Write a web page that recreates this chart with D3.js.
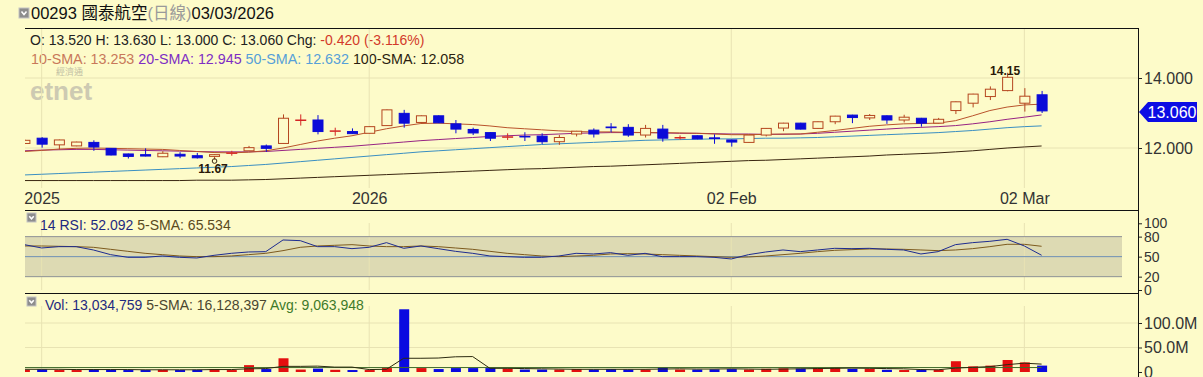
<!DOCTYPE html>
<html>
<head>
<meta charset="utf-8">
<script src="https://cdn.jsdelivr.net/npm/d3@7/dist/d3.min.js"></script>
<style>
  html, body { margin: 0; padding: 0; background: #fdfbc9; }
  svg { display: block; font-family: "Liberation Sans", Arial, "Noto Sans CJK TC", sans-serif; }
</style>
</head>
<body>
<svg id="chart" width="1203" height="377"></svg>
<script>
// 00293 daily candles, 02 Dec 2025 .. 03 Mar 2026
const dates = [
  "2025-12-02","2025-12-03","2025-12-04","2025-12-05","2025-12-08","2025-12-09","2025-12-10","2025-12-11","2025-12-12","2025-12-15",
  "2025-12-16","2025-12-17","2025-12-18","2025-12-19","2025-12-22","2025-12-23","2025-12-24","2025-12-29","2025-12-30","2025-12-31",
  "2026-01-02","2026-01-05","2026-01-06","2026-01-07","2026-01-08","2026-01-09","2026-01-12","2026-01-13","2026-01-14","2026-01-15",
  "2026-01-16","2026-01-19","2026-01-20","2026-01-21","2026-01-22","2026-01-23","2026-01-26","2026-01-27","2026-01-28","2026-01-29",
  "2026-01-30","2026-02-02","2026-02-03","2026-02-04","2026-02-05","2026-02-06","2026-02-09","2026-02-10","2026-02-11","2026-02-12",
  "2026-02-13","2026-02-16","2026-02-20","2026-02-23","2026-02-24","2026-02-25","2026-02-26","2026-02-27","2026-03-02","2026-03-03"
];
const open = [12.13,12.28,12.09,12.06,12.16,11.99,11.83,11.81,11.75,11.82, 11.78,11.76,11.86,11.92,12.06,12.13,12.80,12.80,12.49,12.47,
  12.42,12.64,12.99,12.73,12.92,12.69,12.53,12.44,12.32,12.33, 12.34,12.18,12.40,12.51,12.60,12.59,12.37,12.54,12.30,12.35,
  12.29,12.23,12.16,12.37,12.57,12.71,12.56,12.75,12.94,12.86, 12.92,12.80,12.85,12.71,13.07,13.28,13.47,13.64,13.28,13.52];
const high = [12.24,12.31,12.24,12.18,12.22,12.00,11.84,11.99,11.91,11.88, 11.86,11.82,11.92,12.06,12.10,12.96,12.96,12.94,12.58,12.56,
  12.62,13.10,13.09,12.93,12.93,12.80,12.58,12.45,12.42,12.45, 12.42,12.37,12.49,12.56,12.71,12.68,12.66,12.66,12.36,12.36,
  12.39,12.24,12.37,12.57,12.72,12.72,12.76,12.92,12.95,12.97, 12.93,12.95,12.86,12.86,13.33,13.55,13.76,14.15,13.71,13.63];
const low = [12.12,12.01,11.96,12.05,11.92,11.79,11.70,11.76,11.74,11.71, 11.70,11.67,11.78,11.92,11.89,12.12,12.64,12.39,12.35,12.40,
  12.41,12.63,12.58,12.72,12.71,12.42,12.37,12.20,12.23,12.20, 12.11,12.09,12.33,12.30,12.45,12.32,12.30,12.18,12.24,12.25,
  12.12,12.04,12.15,12.33,12.48,12.53,12.55,12.68,12.71,12.80, 12.69,12.73,12.61,12.70,12.97,13.16,13.37,13.62,13.04,13.00];
const close = [12.22,12.11,12.23,12.17,12.03,11.80,11.76,11.77,11.85,11.77, 11.72,11.81,11.86,12.01,11.99,12.85,12.80,12.47,12.49,12.41,
  12.61,13.09,12.71,12.92,12.72,12.54,12.43,12.28,12.32,12.32, 12.18,12.30,12.48,12.40,12.58,12.37,12.56,12.28,12.30,12.26,
  12.27,12.17,12.37,12.56,12.71,12.54,12.75,12.91,12.87,12.93, 12.80,12.88,12.71,12.82,13.32,13.54,13.68,14.02,13.48,13.06];

// moving averages
const sma10 = [11.90,11.93,11.97,11.99,12.00,11.99,11.98,11.97,11.96,11.93, 11.90,11.87,11.86,11.88,11.92,12.00,12.10,12.20,12.28,12.35,
  12.45,12.55,12.63,12.70,12.71,12.69,12.67,12.63,12.58,12.55, 12.52,12.49,12.47,12.46,12.46,12.45,12.44,12.44,12.43,12.42,
  12.40,12.38,12.38,12.39,12.40,12.40,12.45,12.50,12.56,12.62, 12.66,12.69,12.70,12.71,12.78,12.92,13.07,13.17,13.23,13.253];
const sma20 = [11.92,11.94,11.95,11.96,11.96,11.95,11.94,11.93,11.92,11.91, 11.90,11.89,11.89,11.89,11.90,11.93,11.96,11.99,12.02,12.05,
  12.09,12.13,12.17,12.21,12.24,12.27,12.30,12.33,12.35,12.37, 12.38,12.40,12.42,12.43,12.44,12.44,12.44,12.43,12.42,12.42,
  12.41,12.40,12.40,12.39,12.39,12.40,12.42,12.45,12.48,12.51, 12.54,12.57,12.59,12.61,12.64,12.69,12.75,12.82,12.88,12.945];
const sma50 = [11.23,11.25,11.27,11.29,11.31,11.33,11.35,11.37,11.39,11.41, 11.43,11.45,11.47,11.50,11.53,11.57,11.61,11.65,11.69,11.73,
  11.77,11.81,11.85,11.89,11.92,11.95,11.98,12.01,12.04,12.07, 12.10,12.12,12.14,12.16,12.18,12.20,12.22,12.23,12.24,12.25,
  12.26,12.26,12.27,12.28,12.28,12.29,12.30,12.32,12.34,12.36, 12.38,12.40,12.42,12.44,12.47,12.50,12.54,12.58,12.61,12.632];
const sma100 = [11.07,11.07,11.07,11.07,11.07,11.07,11.07,11.07,11.07,11.07, 11.08,11.08,11.08,11.09,11.10,11.12,11.14,11.16,11.18,11.20,
  11.22,11.24,11.26,11.28,11.30,11.32,11.34,11.36,11.38,11.40, 11.41,11.43,11.45,11.47,11.48,11.50,11.52,11.54,11.56,11.58,
  11.60,11.62,11.64,11.65,11.67,11.69,11.71,11.73,11.75,11.77, 11.80,11.82,11.84,11.86,11.89,11.92,11.96,12.00,12.03,12.058];

// RSI panel
const rsi14 = [68,63,65,65,60,53,49,49,51,49, 48,52,55,57,57.5,75,74,65,65,62,
  64,71,62.5,66,62,58,55,51,50,49, 49,51,55,54,56,52,55,50,50,50,
  49,46.5,53,57,60,57.5,60,62.5,62,62.5, 61,60,54,57.5,68,71,73,76,66,52.092];
const rsiSma5 = [66,66,65.5,65,64,61,58,55,53,51, 50,50,51,53,55,59,64,66,67,68,
  66,65,65,66,65,63,61,58,55,53, 51,50,51,52,54,54.5,54,53,52,51,
  50,49,49.5,51,53,55,57.5,59.5,60.5,61.5, 61.5,61,60,59,60,62,65,68.5,68.5,65.534];

// volume panel, millions of shares
const volume = [4.5,5.5,4,4,5.5,5,4,4,4.5,4, 4.5,6,4,14,6,28,5,7,4.5,4,
  4,8,128,8,6,8,8,8,7,5, 5,5,6,5,6,5,5,9.5,5,5,
  5.5,6,5,6.5,7.5,7,8,9.5,6.5,6.5, 4.5,4,4.5,4.5,22,11.5,13,24.5,19.6,13.034759];
const volSma5 = [5.5,5.5,5.5,5,5,5,5,4.5,4.5,4.5, 4.5,5,5,6.5,7,11.5,11.5,12,10,10,
  5,5.5,28,28,28.5,31,31.5,7.5,7.5,7, 6.5,6,5.5,5.5,5.5,5.5,5.5,6,6.5,6,
  6,6.5,6,5.5,6,6.5,7,7.5,8,7.5, 7,6.5,5,4.5,8,9.5,11,15,18,16.128397];
const volAvg = 9.063948;

const tickDates = ["2025-12-03", "2026-01-02", "2026-02-02", "2026-03-02"];
const tickLabels = ["2025", "2026", "02 Feb", "02 Mar"];
const priceTicks = [12, 14];
const rsiTicks = [0, 20, 50, 80, 100];
const volTicks = [0, 50, 100];

const BG = "#fdfbc9";
const GRID = "#e8e3b3";
const AXIS_TXT = "#333";
const UP = "#b5461f", DOWN = "#0b0bd8", FLAT = "#d42424";
// plain hyphen for negatives, like the source page
const fmt3 = v => d3.format(".3f")(v).replace("\u2212", "-");
const fmtInt = d3.format(",");

const svg = d3.select("#chart");
const left = 25, axisX = 1138;

const x = d3.scalePoint().domain(dates).range([24.4, 1041.6]);
const yPrice = d3.scaleLinear().domain([12, 14]).range([148, 78]);
const yRsi = d3.scaleLinear().domain([0, 100]).range([290, 223.3]);
const yVol = d3.scaleLinear().domain([0, 100]).range([372, 323]);

svg.append("defs").append("clipPath").attr("id", "plot")
  .append("rect").attr("x", left).attr("y", 0).attr("width", axisX - left).attr("height", 377);

function icon(g, px, py, s) {
  g.append("rect").attr("x", px).attr("y", py).attr("width", s).attr("height", s)
    .attr("fill", "#8d8d8d").attr("stroke", "#c4c4c4");
  g.append("path")
    .attr("d", `M${px + s * 0.25},${py + s * 0.35} L${px + s / 2},${py + s * 0.65} L${px + s * 0.75},${py + s * 0.35}`)
    .attr("fill", "none").attr("stroke", "#fff").attr("stroke-width", 1.5);
}

function vGrid(y0, y1) {
  svg.append("g").selectAll("line").data(tickDates).join("line")
    .attr("x1", d => x(d)).attr("x2", d => x(d))
    .attr("y1", y0).attr("y2", y1)
    .attr("stroke", GRID);
}

function rightAxis(scale, ticks, format, size) {
  const g = svg.append("g").attr("transform", `translate(${axisX},0)`)
    .call(d3.axisRight(scale).tickValues(ticks).tickFormat(format).tickSize(4).tickPadding(2).tickSizeOuter(0));
  g.select(".domain").remove();
  g.selectAll("line").attr("stroke", "#222");
  g.selectAll("text").attr("font-size", size).attr("fill", AXIS_TXT)
    .attr("font-family", "Liberation Sans, Arial, sans-serif");
  return g;
}

// header
const head = svg.append("g");
icon(head, 19, 8, 10);
const title = head.append("text").attr("x", 31).attr("y", 19).attr("font-size", 16.5).attr("fill", "#111");
title.append("tspan").text("00293 國泰航空");
title.append("tspan").attr("fill", "#9a9a9a").text("(日線)");
title.append("tspan").text("03/03/2026");

const last = dates.length - 1;
const chg = close[last] - close[last - 1];
const info = svg.append("text").attr("x", 30).attr("y", 45).attr("font-size", 14).attr("fill", "#222");
info.append("tspan").text(`O: ${fmt3(open[last])} H: ${fmt3(high[last])} L: ${fmt3(low[last])} C: ${fmt3(close[last])} Chg: `);
info.append("tspan").attr("fill", "#d23a2a")
  .text(`${fmt3(chg)} (${fmt3(chg / close[last - 1] * 100)}%)`);

const maDefs = [
  { name: "10-SMA", values: sma10, line: "#b9532c", text: "#c8785a" },
  { name: "20-SMA", values: sma20, line: "#972383", text: "#7e2ec4" },
  { name: "50-SMA", values: sma50, line: "#3a8fc2", text: "#56a0d8" },
  { name: "100-SMA", values: sma100, line: "#3a2610", text: "#2b1e10" }
];
const maText = svg.append("text").attr("x", 31).attr("y", 64).attr("font-size", 14.3);
maDefs.forEach((m, i) => {
  maText.append("tspan").attr("fill", m.text)
    .text(`${i ? " " : ""}${m.name}: ${fmt3(m.values[last])}`);
});

// watermark
svg.append("text").attr("x", 56).attr("y", 75).attr("font-size", 9).attr("fill", "#c2bfa4").text("經濟通");
svg.append("text").attr("x", 30).attr("y", 100).attr("font-size", 26).attr("font-weight", "bold")
  .attr("fill", "#cdcab2").text("etnet");

// ---- price panel ----
svg.append("g").selectAll("line").data(priceTicks).join("line")
  .attr("x1", left).attr("x2", axisX).attr("y1", d => yPrice(d)).attr("y2", d => yPrice(d))
  .attr("stroke", GRID);
vGrid(29, 188);

const pricePlot = svg.append("g").attr("clip-path", "url(#plot)");
const line = d3.line().x((d, i) => x(dates[i])).y(d => yPrice(d));
maDefs.slice().reverse().forEach(m => {
  pricePlot.append("path").datum(m.values).attr("d", line)
    .attr("fill", "none").attr("stroke", m.line).attr("stroke-width", 1);
});

const candleColor = i => close[i] > open[i] ? UP : close[i] < open[i] ? DOWN : FLAT;
const candles = pricePlot.append("g").selectAll("g").data(dates).join("g");
candles.append("line")
  .attr("x1", d => x(d) + 0.5).attr("x2", d => x(d) + 0.5)
  .attr("y1", (d, i) => yPrice(high[i])).attr("y2", (d, i) => yPrice(low[i]))
  .attr("stroke", (d, i) => candleColor(i));
candles.append("rect")
  .attr("x", d => x(d) - 4.5)
  .attr("width", 10)
  .attr("y", (d, i) => yPrice(Math.max(open[i], close[i])))
  .attr("height", (d, i) => Math.max(0.5, Math.abs(yPrice(open[i]) - yPrice(close[i]))))
  .attr("fill", (d, i) => close[i] < open[i] ? DOWN : BG)
  .attr("stroke", (d, i) => candleColor(i));

// high / low markers
const hi = d3.maxIndex(high), lo = d3.minIndex(low);
svg.append("text").attr("x", x(dates[hi]) - 2).attr("y", yPrice(high[hi]) + 2)
  .attr("text-anchor", "middle").attr("font-size", 12).attr("font-weight", "bold")
  .attr("fill", "#2a1808").text(high[hi].toFixed(2));
svg.append("circle").attr("cx", x(dates[lo]) + 0.5).attr("cy", yPrice(low[lo]) + 1.5).attr("r", 2.3)
  .attr("fill", "none").attr("stroke", "#3a2410");
svg.append("text").attr("x", x(dates[lo]) - 1).attr("y", yPrice(low[lo]) + 13)
  .attr("text-anchor", "middle").attr("font-size", 12).attr("font-weight", "bold")
  .attr("fill", "#2a1808").text(low[lo].toFixed(2));

// x axis labels
const xAxis = svg.append("g").attr("transform", "translate(0,190)")
  .call(d3.axisBottom(x).tickValues(tickDates).tickFormat((d, i) => tickLabels[i]).tickSize(0).tickPadding(3));
xAxis.select(".domain").remove();
xAxis.selectAll("text").attr("font-size", 16).attr("fill", AXIS_TXT)
  .attr("font-family", "Liberation Sans, Arial, sans-serif");

rightAxis(yPrice, priceTicks, fmt3, 16);

// last price tag
const ty = yPrice(close[last]) + 1;
svg.append("path")
  .attr("d", `M${axisX + 1},${ty} L${axisX + 10},${ty - 10} L1197,${ty - 10} L1197,${ty + 10} L${axisX + 10},${ty + 10} Z`)
  .attr("fill", "#0c0ce4");
svg.append("text").attr("x", 1172).attr("y", ty).attr("dy", "0.36em").attr("text-anchor", "middle")
  .attr("font-size", 16).attr("fill", "#fff").text(fmt3(close[last]));

// ---- RSI panel ----
svg.append("rect").attr("x", left).attr("width", 1122 - left)
  .attr("y", yRsi(80)).attr("height", yRsi(20) - yRsi(80)).attr("fill", "#dddab3");
vGrid(223, 290);
[[80, "#8e9296"], [20, "#8e9296"], [50, "#6f90b6"]].forEach(([v, c]) => {
  svg.append("line").attr("x1", left).attr("x2", 1122).attr("y1", yRsi(v)).attr("y2", yRsi(v)).attr("stroke", c);
});
const rsiPlot = svg.append("g").attr("clip-path", "url(#plot)");
const rsiLine = d3.line().x((d, i) => x(dates[i])).y(d => yRsi(d));
rsiPlot.append("path").datum(rsiSma5).attr("d", rsiLine).attr("fill", "none").attr("stroke", "#7d5a1e");
rsiPlot.append("path").datum(rsi14).attr("d", rsiLine).attr("fill", "none").attr("stroke", "#1d2b90");
rightAxis(yRsi, rsiTicks, d3.format("d"), 14);

icon(svg, 27, 213, 9);
const rsiText = svg.append("text").attr("x", 40).attr("y", 230).attr("font-size", 14);
rsiText.append("tspan").attr("fill", "#1f2a80").text(`14 RSI: ${fmt3(rsi14[last])}`);
rsiText.append("tspan").attr("fill", "#5a4a1e").text(` 5-SMA: ${fmt3(rsiSma5[last])}`);

// ---- volume panel ----
svg.append("g").selectAll("line").data([50, 100]).join("line")
  .attr("x1", left).attr("x2", axisX).attr("y1", d => yVol(d)).attr("y2", d => yVol(d))
  .attr("stroke", GRID);
vGrid(306, 372);
const volPlot = svg.append("g").attr("clip-path", "url(#plot)");
volPlot.selectAll("rect").data(dates).join("rect")
  .attr("x", d => x(d) - 4.5).attr("width", 10)
  .attr("y", (d, i) => yVol(volume[i]))
  .attr("height", (d, i) => yVol(0) - yVol(volume[i]))
  .attr("fill", (d, i) => close[i] < open[i] ? "#0a0ae0" : "#e30f0f");
volPlot.append("line").attr("x1", left).attr("x2", x(dates[last]))
  .attr("y1", yVol(volAvg)).attr("y2", yVol(volAvg)).attr("stroke", "#3f6a2a");
volPlot.append("path").datum(volSma5)
  .attr("d", d3.line().x((d, i) => x(dates[i])).y(d => yVol(d)))
  .attr("fill", "none").attr("stroke", "#2c2a10");
rightAxis(yVol, volTicks, d => d === 0 ? "0" : d.toFixed(1) + "M", 16);

icon(svg, 27, 297, 9);
const volText = svg.append("text").attr("x", 45).attr("y", 310).attr("font-size", 14);
volText.append("tspan").attr("fill", "#1f2a80").text(`Vol: ${fmtInt(Math.round(volume[last] * 1e6))}`);
volText.append("tspan").attr("fill", "#4a4630").text(` 5-SMA: ${fmtInt(Math.round(volSma5[last] * 1e6))}`);
volText.append("tspan").attr("fill", "#3d7a2a").text(` Avg: ${fmtInt(Math.round(volAvg * 1e6))}`);

// panel frame lines
[28.5, 210.5, 293.5].forEach(yy => {
  svg.append("line").attr("x1", left).attr("x2", axisX + 1).attr("y1", yy).attr("y2", yy).attr("stroke", "#111");
});
svg.append("line").attr("x1", axisX + 0.5).attr("x2", axisX + 0.5).attr("y1", 28).attr("y2", 377).attr("stroke", "#111");
</script>
</body>
</html>
